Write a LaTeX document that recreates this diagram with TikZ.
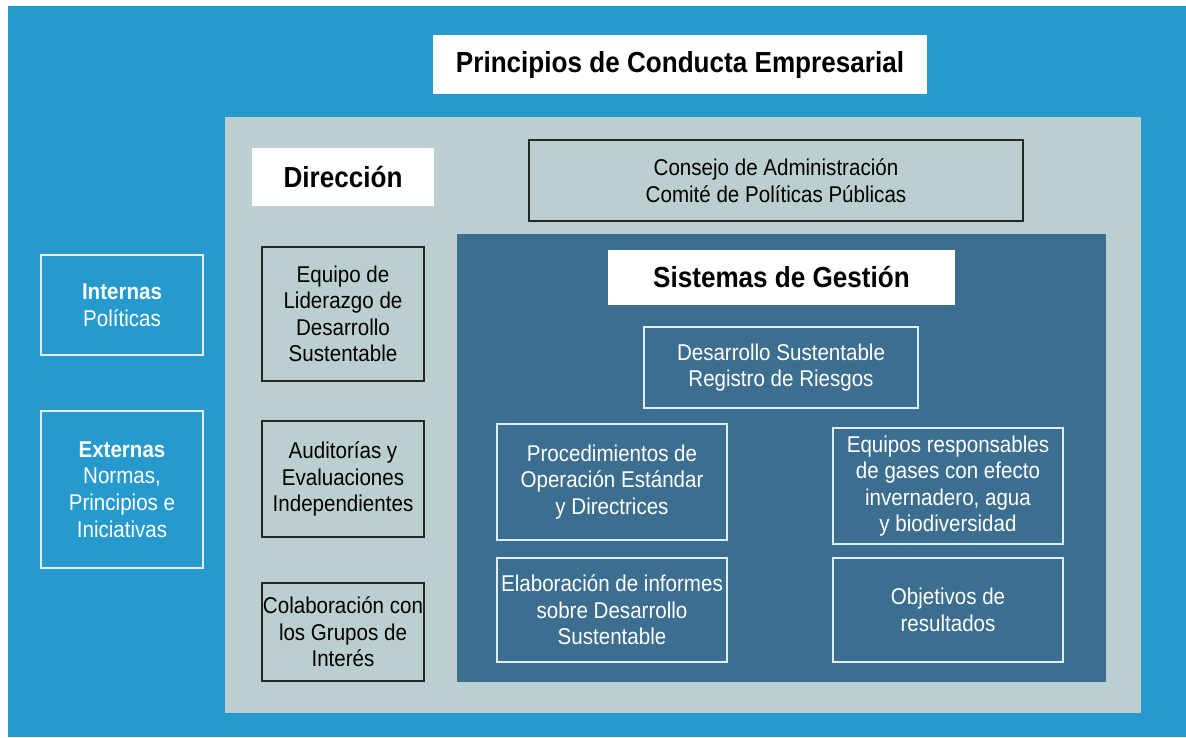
\documentclass[tikz,border=0pt]{standalone}
\usepackage{fontspec}
\setmainfont{Liberation Sans}[FakeStretch=0.9]
\usetikzlibrary{positioning}
\definecolor{outerblue}{RGB}{38,153,205}
\definecolor{panelgray}{RGB}{187,207,209}
\definecolor{darkblue}{RGB}{60,110,143}
\definecolor{lineblue}{RGB}{225,238,245}
\tikzset{
    headbox/.style = {rectangle, fill=white, inner sep=0pt, font=\fontsize{16.5}{19}\selectfont\bfseries},
    graybox/.style = {rectangle, draw=black!85, line width=0.6pt, fill=panelgray, align=center, inner sep=0pt, font=\fontsize{13}{15.1}\selectfont},
    darkbox/.style = {rectangle, draw=lineblue, line width=0.8pt, fill=darkblue, align=center, inner sep=0pt, text=white, font=\fontsize{13}{15.1}\selectfont},
    sidebox/.style = {rectangle, draw=lineblue, line width=0.8pt, fill=outerblue, align=center, inner sep=0pt, text=white, font=\fontsize{13}{15.1}\selectfont}
}

\begin{document}
\begin{tikzpicture}
  \useasboundingbox (0,0) rectangle (23.72,-14.74);
  % layers
  \fill[outerblue] (0.16,-0.12) rectangle (23.72,-14.74);
  \fill[panelgray] (4.50,-2.34) rectangle (22.82,-14.26);
  \fill[darkblue] (9.14,-4.68) rectangle (22.12,-13.64);

  \node[headbox, minimum width=9.88cm, minimum height=1.18cm] at (13.60,-1.29) (titulo) {Principios de Conducta Empresarial};
  \node[headbox, minimum width=3.64cm, minimum height=1.16cm] at (6.86,-3.54) (direccion) {Dirección};
  \node[graybox, minimum width=9.88cm, minimum height=1.62cm] at (15.52,-3.61) (consejo) {Consejo de Administración\\Comité de Políticas Públicas};
  \node[headbox, minimum width=6.94cm, minimum height=1.10cm] at (15.63,-5.55) (sistemas) {Sistemas de Gestión};

  \node[sidebox, minimum width=3.24cm, minimum height=2.00cm] at (2.44,-6.10) (internas) {\textbf{Internas}\\Políticas};
  \node[sidebox, minimum width=3.24cm, minimum height=3.14cm] at (2.44,-9.79) (externas) {\textbf{Externas}\\Normas,\\Principios e\\Iniciativas};

  \node[graybox, minimum width=3.24cm, minimum height=2.68cm] at (6.86,-6.28) (liderazgo) {Equipo de\\Liderazgo de\\Desarrollo\\Sustentable};
  \node[graybox, minimum width=3.24cm, minimum height=2.32cm] at (6.86,-9.58) (auditorias) {Auditorías y\\Evaluaciones\\Independientes};
  \node[graybox, minimum width=3.24cm, minimum height=1.96cm] at (6.86,-12.64) (colaboracion) {Colaboración con\\los Grupos de\\Interés};

  \node[darkbox, minimum width=5.48cm, minimum height=1.62cm] at (15.62,-7.35) (riesgos) {Desarrollo Sustentable\\Registro de Riesgos};
  \node[darkbox, minimum width=4.60cm, minimum height=2.32cm] at (12.24,-9.64) (procedimientos) {Procedimientos de\\Operación Estándar\\y Directrices};
  \node[darkbox, minimum width=4.60cm, minimum height=2.32cm] at (18.96,-9.72) (equipos) {Equipos responsables\\de gases con efecto\\invernadero, agua\\y biodiversidad};
  \node[darkbox, minimum width=4.60cm, minimum height=2.08cm] at (12.24,-12.20) (informes) {Elaboración de informes\\sobre Desarrollo\\Sustentable};
  \node[darkbox, minimum width=4.60cm, minimum height=2.08cm] at (18.96,-12.20) (objetivos) {Objetivos de\\resultados};
\end{tikzpicture}
\end{document}
